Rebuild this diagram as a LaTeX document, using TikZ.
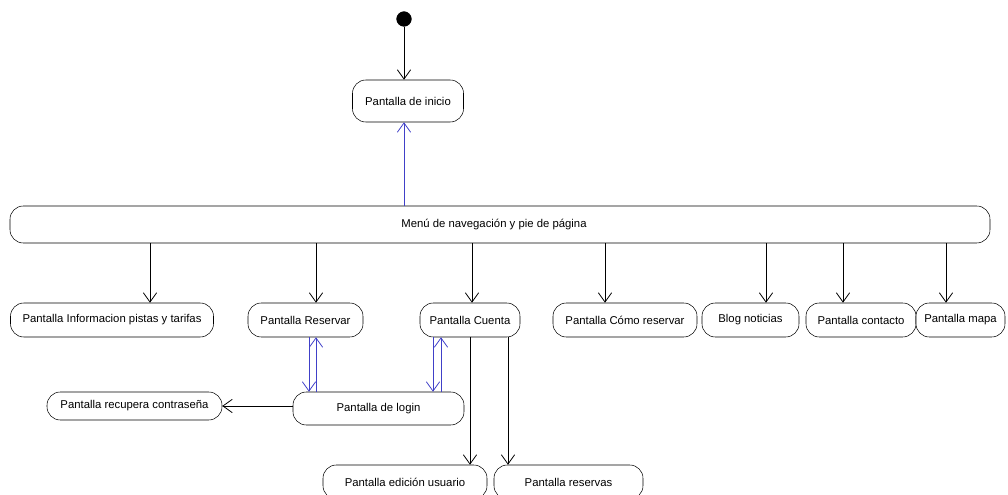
\documentclass[tikz,border=0pt]{standalone}
\usepackage{fontspec}
\setmainfont{Liberation Sans}
\usetikzlibrary{arrows.meta}
\usetikzlibrary{positioning}
\definecolor{navblue}{RGB}{64,64,200}
\tikzset{
screen/.style={draw,black,rounded corners=10pt,align=center,inner sep=0cm,minimum height=25.5pt,fill=white,font=\fontsize{8.5}{10}\selectfont},
initial/.style={circle,draw,black,fill=black,inner sep=0cm,minimum size=11pt},
line/.style={black,line width=0.6pt,-{Straight Barb[length=7pt,width=10pt]}},
navline/.style={line,navblue}
}

\begin{document}
\begin{tikzpicture}[x=0.75pt,y=-0.75pt]
    \useasboundingbox (0,0) rectangle (1008,495);
    {
      \node[initial](start) at (404,19) {};
      \node[screen, minimum width=83.25pt, minimum height=31.5pt](inicio) at (408,101) {Pantalla de inicio};
      \node[screen, minimum width=735pt, minimum height=27.75pt](menu) at (500,224.5) {\hspace*{-9pt}Menú de navegación y pie de página};
      %
      \node[screen, minimum width=152.25pt](info) at (112,320) {Pantalla Informacion pistas y tarifas};
      \node[screen, minimum width=86.25pt](reservar) at (305.5,320) {Pantalla Reservar};
      \node[screen, minimum width=75pt](cuenta) at (470,320) {Pantalla Cuenta};
      \node[screen, minimum width=108pt](como) at (625,320) {Pantalla Cómo reservar};
      \node[screen, minimum width=72.75pt](blog) at (750.5,320) {Blog noticias};
      \node[screen, minimum width=82.5pt](contacto) at (861,320) {Pantalla contacto};
      \node[screen, minimum width=66.75pt](mapa) at (960.5,320) {Pantalla mapa};
      %
      \node[screen, minimum width=128.25pt, minimum height=24.75pt](login) at (378.5,408.5) {Pantalla de login};
      \node[screen, minimum width=131.25pt, minimum height=21pt](recupera) at (134.5,406) {Pantalla recupera contraseña};
      \node[screen, minimum width=123pt](edicion) at (405,482) {Pantalla edición usuario};
      \node[screen, minimum width=111.75pt](reservas) at (568.5,482) {Pantalla reservas};
      %
      \draw[line] (start) -- (inicio.north -| start);
      \draw[navline] (menu.north -| start) -- (inicio.south -| start);
      \foreach \n / \x in {info/150,reservar/316,cuenta/472,como/605,blog/766,contacto/843,mapa/946}
      {
        \coordinate (c) at (\x,0);
        \draw[line] (menu.south -| c) -- (\n.north -| c);
      }
      \foreach \u / \v / \x in {reservar/login/309,cuenta/login/433}
      {
        \coordinate (c) at (\x,0);
        \draw[navline] (\u.south -| c) -- (\v.north -| c);
      }
      \foreach \u / \v / \x in {login/reservar/316,login/cuenta/441}
      {
        \coordinate (c) at (\x,0);
        \draw[navline] (\u.north -| c) -- (\v.south -| c);
      }
      \draw[line] (login.west |- recupera.east) -- (recupera.east);
      \foreach \v / \x in {edicion/470,reservas/508}
      {
        \coordinate (c) at (\x,0);
        \draw[line] (cuenta.south -| c) -- (\v.north -| c);
      }
    }
\end{tikzpicture}
\end{document}
